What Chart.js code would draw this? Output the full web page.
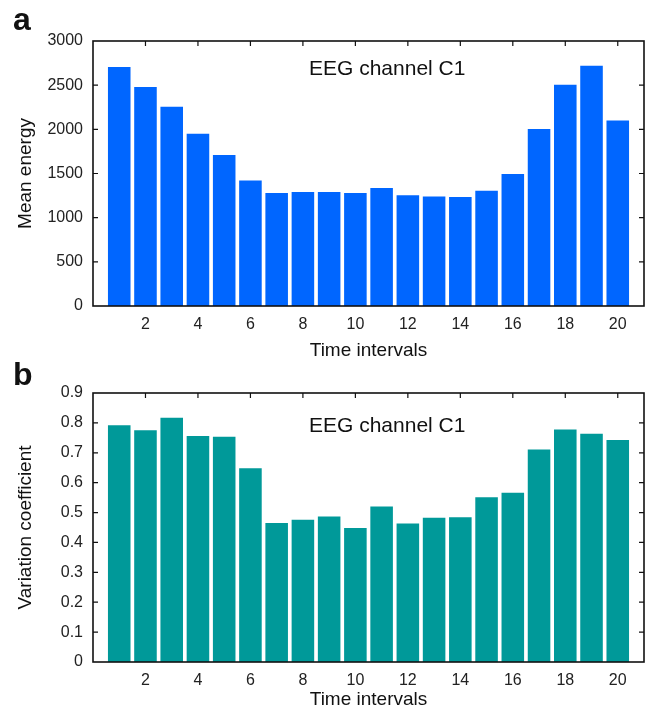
<!DOCTYPE html>
<html>
<head>
<meta charset="utf-8">
<script src="https://cdn.jsdelivr.net/npm/chart.js@4.4.0/dist/chart.umd.min.js"></script>
<style>
    body { margin: 0; background: #fff; }
    #page { position: relative; width: 650px; height: 716px; overflow: hidden; font-family: "Liberation Sans", Arial, sans-serif; }
    .panel { position: absolute; left: 0; }
    .letter { position: absolute; font-size: 32px; font-weight: bold; line-height: 1; color: #111; }
    .inset { position: absolute; font-size: 21px; line-height: 1; color: #111; white-space: nowrap; }
</style>
</head>
<body>
<div id="page">
    <canvas id="chartA" class="panel" width="650" height="360" style="top:0"></canvas>
    <canvas id="chartB" class="panel" width="650" height="356" style="top:360px"></canvas>
    <div class="letter" style="left:13px; top:3px">a</div>
    <div class="letter" style="left:13px; top:358px">b</div>
    <div class="inset" style="left:309px; top:57px">EEG channel C1</div>
    <div class="inset" style="left:309px; top:414px">EEG channel C1</div>
</div>
<script>
// time intervals 1..20
const intervals = [1, 2, 3, 4, 5, 6, 7, 8, 9, 10, 11, 12, 13, 14, 15, 16, 17, 18, 19, 20];
// x tick labels shown under the bars
const xTickLabels = [2, 4, 6, 8, 10, 12, 14, 16, 18, 20];
// panel a: mean energy per interval
const meanEnergy = [2705, 2480, 2255, 1950, 1710, 1420, 1280, 1290, 1290, 1280,
                    1335, 1255, 1240, 1235, 1305, 1495, 2005, 2505, 2720, 2100];
// panel b: variation coefficient per interval
const variationCoeff = [0.792, 0.775, 0.817, 0.756, 0.754, 0.648, 0.465, 0.476, 0.487, 0.448,
                        0.520, 0.463, 0.483, 0.484, 0.551, 0.566, 0.711, 0.778, 0.764, 0.743];

const fontFamily = '"Liberation Sans", Arial, sans-serif';

// box round the plot, with small inward ticks like the original figure
const framePlugin = {
    id: 'frame',
    beforeDatasetsDraw(chart) {
        const ctx = chart.ctx;
        const area = chart.chartArea;
        const xs = chart.scales.x;
        const ys = chart.scales.y;
        ctx.save();
        ctx.strokeStyle = '#111';
        ctx.lineWidth = 1.2;
        ctx.beginPath();
        xs.ticks.forEach(t => {
            const px = xs.getPixelForValue(t.value);
            ctx.moveTo(px, area.top);
            ctx.lineTo(px, area.top + 5);
            ctx.moveTo(px, area.bottom);
            ctx.lineTo(px, area.bottom - 5);
        });
        ys.ticks.forEach(t => {
            if (t.value <= ys.min || t.value >= ys.max) return;
            const py = ys.getPixelForValue(t.value);
            ctx.moveTo(area.right, py);
            ctx.lineTo(area.right - 5, py);
            ctx.moveTo(area.left, py);
            ctx.lineTo(area.left + 5, py);
        });
        ctx.stroke();
        ctx.restore();
    },
    afterDatasetsDraw(chart) {
        const ctx = chart.ctx;
        const area = chart.chartArea;
        ctx.save();
        ctx.strokeStyle = '#111';
        ctx.lineWidth = 1.6;
        ctx.strokeRect(area.left, area.top, area.right - area.left, area.bottom - area.top);
        ctx.restore();
    }
};

function makeChart(canvasId, values, color, yTitle, yMax, yStep, yFormat, topPad, titleBottomPad) {
    const points = intervals.map((x, i) => ({ x: x, y: values[i] }));
    return new Chart(document.getElementById(canvasId), {
        type: 'bar',
        data: {
            datasets: [{
                data: points,
                backgroundColor: color,
                borderWidth: 0,
                barPercentage: 0.86,
                categoryPercentage: 1
            }]
        },
        options: {
            responsive: false,
            animation: false,
            layout: { padding: { left: 0, right: 6, top: topPad, bottom: 0 } },
            plugins: {
                legend: { display: false },
                tooltip: { enabled: false }
            },
            scales: {
                x: {
                    type: 'linear',
                    min: 0,
                    max: intervals.length + 1,
                    offset: false,
                    grid: { display: false, drawTicks: false },
                    border: { display: false },
                    afterBuildTicks: s => { s.ticks = xTickLabels.map(v => ({ value: v })); },
                    ticks: {
                        autoSkip: false,
                        maxRotation: 0,
                        padding: 9,
                        color: '#222',
                        font: { family: fontFamily, size: 16 }
                    },
                    title: {
                        display: true,
                        text: 'Time intervals',
                        color: '#111',
                        font: { family: fontFamily, size: 19, lineHeight: 1 },
                        padding: { top: 0, bottom: titleBottomPad }
                    },
                    afterFit: s => { s.height = 54; }
                },
                y: {
                    min: 0,
                    max: yMax,
                    grid: { display: false, drawTicks: false },
                    border: { display: false },
                    ticks: {
                        stepSize: yStep,
                        padding: 10,
                        color: '#222',
                        font: { family: fontFamily, size: 16 },
                        callback: yFormat
                    },
                    title: {
                        display: true,
                        text: yTitle,
                        color: '#111',
                        font: { family: fontFamily, size: 19, lineHeight: 1.2 },
                        padding: { top: 14, bottom: 0 }
                    },
                    afterFit: s => { s.width = 93; }
                }
            }
        },
        plugins: [framePlugin]
    });
}

makeChart('chartA', meanEnergy, '#0066ff', 'Mean energy', 3000, 500,
    v => String(v), 41, 0);
makeChart('chartB', variationCoeff, '#009999', 'Variation coefficient', 0.9, 0.1,
    v => (v === 0 ? '0' : v.toFixed(1)), 33, 7);
</script>
</body>
</html>
